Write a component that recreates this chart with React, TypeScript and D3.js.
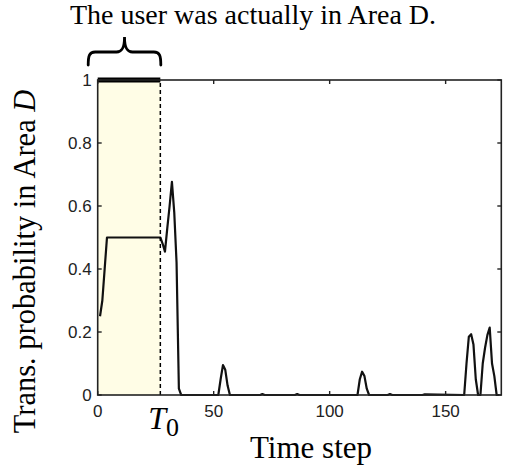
import React from "react";
import * as d3 from "d3";

// Transition probability into Area D per time step (line vertices)
const steps = [1, 2, 3, 4, 27, 28, 29, 30, 31, 32, 33, 34, 35, 36, 70, 71, 72, 85, 86, 87, 52, 53, 54, 55, 56, 57, 112, 113, 114, 115, 116, 117, 125, 126, 127, 140, 141, 158, 159, 160, 161, 162, 163, 164, 165, 166, 167, 168, 169, 170, 171, 172, 173];
const probs = [0.25, 0.3, 0.4, 0.5, 0.5, 0.48, 0.455, 0.53, 0.6, 0.677, 0.58, 0.42, 0.02, 0, 0, 0.003, 0, 0, 0.003, 0, 0, 0.05, 0.095, 0.08, 0.03, 0, 0, 0.05, 0.074, 0.06, 0.02, 0, 0, 0.003, 0, 0, 0.002, 0, 0.1, 0.185, 0.193, 0.16, 0.05, 0, 0, 0.1, 0.15, 0.19, 0.214, 0.1, 0.06, 0, 0];

// Period during which the user was actually in Area D
const actualStart = 0;
const T0 = 27;

const xTicks = [0, 50, 100, 150];
const yTicks = [0, 0.2, 0.4, 0.6, 0.8, 1];
const X_MAX = 174;

const W = 505;
const H = 468;
const M = { left: 97.7, right: 501.3, top: 80, bottom: 395 };

const serif = "'Liberation Serif', 'Times New Roman', serif";
const sans = "'Liberation Sans', Arial, sans-serif";

export default function App() {
  const x = d3.scaleLinear().domain([0, X_MAX]).range([M.left, M.right]);
  const y = d3.scaleLinear().domain([0, 1]).range([M.bottom, M.top]);

  const pts: [number, number][] = steps
    .map((s, i) => [s, probs[i]] as [number, number])
    .sort((a, b) => a[0] - b[0]);
  const line = d3
    .line<[number, number]>()
    .x((d) => x(d[0]))
    .y((d) => y(d[1]));

  const tickLen = 4;
  const axisColor = "#222";

  const braceL = x(actualStart) - 9.5;
  const braceR = x(T0) + 0.5;
  const braceMid = (braceL + braceR) / 2;
  const bTop = 52;
  const bBot = 65;
  const bTip = 37;
  const brace = `M${braceL},${bBot} C${braceL},${bTop + 4} ${braceL + 1},${bTop} ${braceL + 7},${bTop} L${braceMid - 8},${bTop} C${braceMid - 3},${bTop} ${braceMid},${bTop - 3} ${braceMid},${bTip} C${braceMid},${bTop - 3} ${braceMid + 3},${bTop} ${braceMid + 8},${bTop} L${braceR - 7},${bTop} C${braceR - 1},${bTop} ${braceR},${bTop + 4} ${braceR},${bBot}`;

  return (
    <svg
      width={W}
      height={H}
      style={{ position: "absolute", left: 0, top: 0, background: "#fff" }}
    >
      {/* shaded interval */}
      <rect
        x={x(actualStart)}
        y={y(1)}
        width={x(T0) - x(actualStart)}
        height={y(0) - y(1)}
        fill="#fffde6"
      />

      {/* probability curve */}
      <path d={line(pts) ?? ""} fill="none" stroke="#111" strokeWidth={2.2} strokeLinejoin="round" />

      {/* actual presence indicator */}
      <line x1={x(actualStart)} x2={x(T0)} y1={y(1)} y2={y(1)} stroke="#000" strokeWidth={5} />

      {/* T0 marker */}
      <line
        x1={x(T0)}
        x2={x(T0)}
        y1={y(0)}
        y2={y(1)}
        stroke="#000"
        strokeWidth={1.5}
        strokeDasharray="4,3"
      />

      {/* axes box */}
      <rect
        x={M.left}
        y={M.top}
        width={M.right - M.left}
        height={M.bottom - M.top}
        fill="none"
        stroke={axisColor}
        strokeWidth={1.6}
      />

      {xTicks.map((t) => (
        <g key={`xt${t}`}>
          <line x1={x(t)} x2={x(t)} y1={M.bottom} y2={M.bottom - tickLen} stroke={axisColor} strokeWidth={1.4} />
          <line x1={x(t)} x2={x(t)} y1={M.top} y2={M.top + tickLen} stroke={axisColor} strokeWidth={1.4} />
          <text x={x(t)} y={417} textAnchor="middle" fontFamily={sans} fontSize={17} fill="#222">
            {t}
          </text>
        </g>
      ))}

      {yTicks.map((t) => (
        <g key={`yt${t}`}>
          <line x1={M.left} x2={M.left + tickLen} y1={y(t)} y2={y(t)} stroke={axisColor} strokeWidth={1.4} />
          <line x1={M.right} x2={M.right - tickLen} y1={y(t)} y2={y(t)} stroke={axisColor} strokeWidth={1.4} />
          <text
            x={M.left - 6}
            y={y(t) + 6}
            textAnchor="end"
            fontFamily={sans}
            fontSize={17}
            fill="#222"
          >
            {t === 0 || t === 1 ? String(t) : t.toFixed(1)}
          </text>
        </g>
      ))}

      {/* T0 label */}
      <text x={x(T0) - 12} y={429} fontFamily={serif} fontSize={32} fill="#000">
        <tspan fontStyle="italic">T</tspan>
        <tspan fontSize={26} dy={7}>0</tspan>
      </text>

      {/* axis titles */}
      <text x={311} y={458} textAnchor="middle" fontFamily={serif} fontSize={31} fill="#000">
        Time step
      </text>
      <text
        transform={`translate(35, ${(85 + 438) / 2}) rotate(-90)`}
        textAnchor="middle"
        fontFamily={serif}
        fontSize={30.5}
        fill="#000"
      >
        Trans. probability in Area <tspan fontStyle="italic">D</tspan>
      </text>

      {/* annotation */}
      <path d={brace} fill="none" stroke="#000" strokeWidth={2.8} strokeLinecap="round" />
      <text x={253} y={24} textAnchor="middle" fontFamily={serif} fontSize={28} fill="#000">
        The user was actually in Area D.
      </text>
    </svg>
  );
}
